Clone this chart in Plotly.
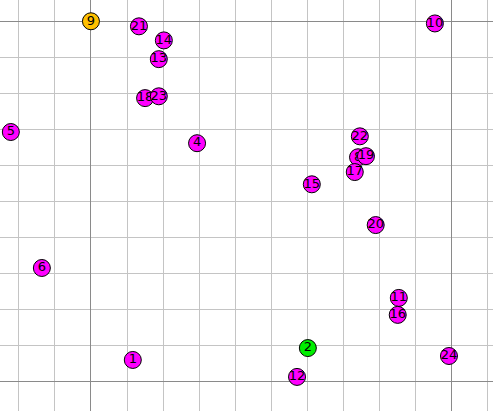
import plotly.graph_objects as go

labels = ["1", "2", "4", "5", "6", "8", "9", "10", "11", "12", "13", "14",
          "15", "16", "17", "18", "19", "20", "21", "22", "23", "24"]
x_vals = [1.16, 6.01, 2.94, -2.22, -1.36, 7.40, 0.0, 9.53, 8.53, 5.71, 1.88, 2.02,
          6.12, 8.50, 7.31, 1.50, 7.62, 7.89, 1.33, 7.45, 1.88, 9.92]
y_vals = [0.61, 0.94, 6.62, 6.93, 3.16, 6.23, 10.0, 9.94, 2.33, 0.14, 8.95, 9.47,
          5.48, 1.86, 5.82, 7.87, 6.26, 4.35, 9.86, 6.81, 7.92, 0.72]
colors = ["#FF00FF", "#00EE00", "#FF00FF", "#FF00FF", "#FF00FF", "#FF00FF",
          "#FFC000", "#FF00FF", "#FF00FF", "#FF00FF", "#FF00FF", "#FF00FF", "#FF00FF",
          "#FF00FF", "#FF00FF", "#FF00FF", "#FF00FF", "#FF00FF", "#FF00FF", "#FF00FF",
          "#FF00FF", "#FF00FF"]

fig = go.Figure()
for lab, xv, yv, c in zip(labels, x_vals, y_vals, colors):
    fig.add_trace(go.Scatter(
        x=[xv], y=[yv], text=[lab], mode="markers+text",
        textposition="middle center",
        marker=dict(size=17, color=c, line=dict(color="#000000", width=1)),
        textfont=dict(family="DejaVu Sans", size=13, color="#000000"),
        showlegend=False, hoverinfo="skip", cliponaxis=False,
    ))

axis_common = dict(
    showticklabels=False, ticks="", zeroline=False, showline=False,
    tick0=0, dtick=10, showgrid=True, gridcolor="#8a8a8a", gridwidth=1,
    minor=dict(tick0=0, dtick=1, showgrid=True, gridcolor="#c4c4c4", gridwidth=1),
    fixedrange=True,
)
fig.update_layout(
    width=493, height=411,
    margin=dict(l=0, r=0, t=0, b=0),
    paper_bgcolor="white", plot_bgcolor="white",
    xaxis=dict(range=[-2.52, 11.14], **axis_common),
    yaxis=dict(range=[-0.805, 10.59], **axis_common),
)
fig.write_html("out.html")
